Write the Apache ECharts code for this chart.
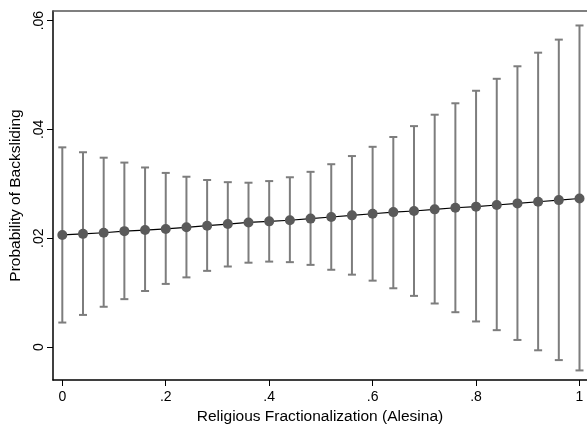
<!DOCTYPE html>
<html>
<head>
<meta charset="utf-8">
<script src="https://cdn.jsdelivr.net/npm/echarts@6/dist/echarts.min.js"></script>
<style>
  html, body { margin: 0; padding: 0; background: #fff; }
  #chart { width: 587px; height: 426px; }
</style>
</head>
<body>
<div id="chart"></div>
<script>
// Religious fractionalization grid (Alesina)
var fractionalization = [0, 0.04, 0.08, 0.12, 0.16, 0.20, 0.24, 0.28, 0.32, 0.36, 0.40, 0.44, 0.48,
  0.52, 0.56, 0.60, 0.64, 0.68, 0.72, 0.76, 0.80, 0.84, 0.88, 0.92, 0.96, 1.00];

// Predicted probability of backsliding
var probability = [0.0206, 0.0208, 0.0210, 0.0213, 0.0215, 0.0217, 0.0220, 0.0223, 0.0226, 0.0229,
  0.0231, 0.0233, 0.0236, 0.0239, 0.0242, 0.0245, 0.0248, 0.0250, 0.0253, 0.0256, 0.0258,
  0.0261, 0.0264, 0.0267, 0.0270, 0.0273];

// Confidence interval bounds
var lowerBound = [0.0045, 0.0059, 0.0074, 0.0088, 0.0103, 0.0116, 0.0128, 0.0140, 0.0148, 0.0155,
  0.0157, 0.0156, 0.0151, 0.0142, 0.0133, 0.0122, 0.0108, 0.0094, 0.0080, 0.0064, 0.0047,
  0.0031, 0.0013, -0.0006, -0.0024, -0.0043];
var upperBound = [0.0367, 0.0358, 0.0348, 0.0339, 0.0330, 0.0320, 0.0313, 0.0307, 0.0303, 0.0302,
  0.0305, 0.0312, 0.0322, 0.0336, 0.0351, 0.0368, 0.0386, 0.0406, 0.0427, 0.0448, 0.0471,
  0.0493, 0.0516, 0.0541, 0.0565, 0.0591];

// Tick positions and labels
var xTicks = [0, 0.2, 0.4, 0.6, 0.8, 1];
var xTickLabels = ['0', '.2', '.4', '.6', '.8', '1'];
var yTicks = [0, 0.02, 0.04, 0.06];
var yTickLabels = ['0', '.02', '.04', '.06'];

var FONT = '"Liberation Sans", Arial, Helvetica, sans-serif';

function labelFor(ticks, labels, v) {
  for (var i = 0; i < ticks.length; i++) {
    if (Math.abs(ticks[i] - v) < 1e-9) return labels[i];
  }
  return '';
}

var pointData = fractionalization.map(function (x, i) { return [x, probability[i]]; });
var barData = fractionalization.map(function (x, i) { return [x, lowerBound[i], upperBound[i]]; });

var chart = echarts.init(document.getElementById('chart'), null, { renderer: 'canvas' });

chart.setOption({
  animation: false,
  backgroundColor: '#ffffff',
  grid: { left: 53, top: 11, right: 0, bottom: 46, containLabel: false, outerBoundsMode: 'none' },
  xAxis: [{
    type: 'value',
    min: -0.018,
    max: 1.0145,
    position: 'bottom',
    name: 'Religious Fractionalization (Alesina)',
    nameLocation: 'middle',
    nameGap: 22,
    nameTextStyle: { fontFamily: FONT, fontSize: 15.5, color: '#000' },
    axisLine: { show: true, onZero: false, lineStyle: { color: '#000', width: 1.5 } },
    axisTick: { show: true, length: 6, customValues: xTicks, lineStyle: { color: '#000', width: 1 } },
    axisLabel: {
      show: true, margin: 10, fontFamily: FONT, fontSize: 14, color: '#000',
      customValues: xTicks,
      formatter: function (v) { return labelFor(xTicks, xTickLabels, v); }
    },
    splitLine: { show: false }
  }, {
    type: 'value',
    min: -0.018,
    max: 1.0145,
    position: 'top',
    axisLine: { show: true, onZero: false, lineStyle: { color: '#555', width: 1.5 } },
    axisTick: { show: false },
    axisLabel: { show: false },
    splitLine: { show: false }
  }],
  yAxis: {
    type: 'value',
    min: -0.00606,
    max: 0.06176,
    name: 'Probability of Backsliding',
    nameLocation: 'middle',
    nameRotate: 90,
    nameGap: 26,
    nameTextStyle: { fontFamily: FONT, fontSize: 15.5, color: '#000' },
    axisLine: { show: true, onZero: false, lineStyle: { color: '#000', width: 1.5 } },
    axisTick: { show: true, length: 6, customValues: yTicks, lineStyle: { color: '#000', width: 1 } },
    axisLabel: {
      show: true, rotate: 90, margin: 7, fontFamily: FONT, fontSize: 14, color: '#000',
      customValues: yTicks,
      formatter: function (v) { return labelFor(yTicks, yTickLabels, v); }
    },
    splitLine: { show: false }
  },
  series: [{
    // confidence interval spikes with caps
    type: 'custom',
    xAxisIndex: 0,
    data: barData,
    z: 2,
    renderItem: function (params, api) {
      var x = api.value(0);
      var lo = api.coord([x, api.value(1)]);
      var hi = api.coord([x, api.value(2)]);
      var half = 4;
      var style = { stroke: '#7d7d7d', lineWidth: 2, fill: null };
      return {
        type: 'group',
        children: [
          { type: 'line', shape: { x1: lo[0], y1: lo[1], x2: hi[0], y2: hi[1] }, style: style },
          { type: 'line', shape: { x1: lo[0] - half, y1: lo[1], x2: lo[0] + half, y2: lo[1] }, style: style },
          { type: 'line', shape: { x1: hi[0] - half, y1: hi[1], x2: hi[0] + half, y2: hi[1] }, style: style }
        ]
      };
    }
  }, {
    type: 'line',
    xAxisIndex: 0,
    data: pointData,
    z: 3,
    symbol: 'circle',
    symbolSize: 10,
    itemStyle: { color: '#5a5a5a' },
    lineStyle: { color: '#000', width: 1.2 }
  }]
});
</script>
</body>
</html>
